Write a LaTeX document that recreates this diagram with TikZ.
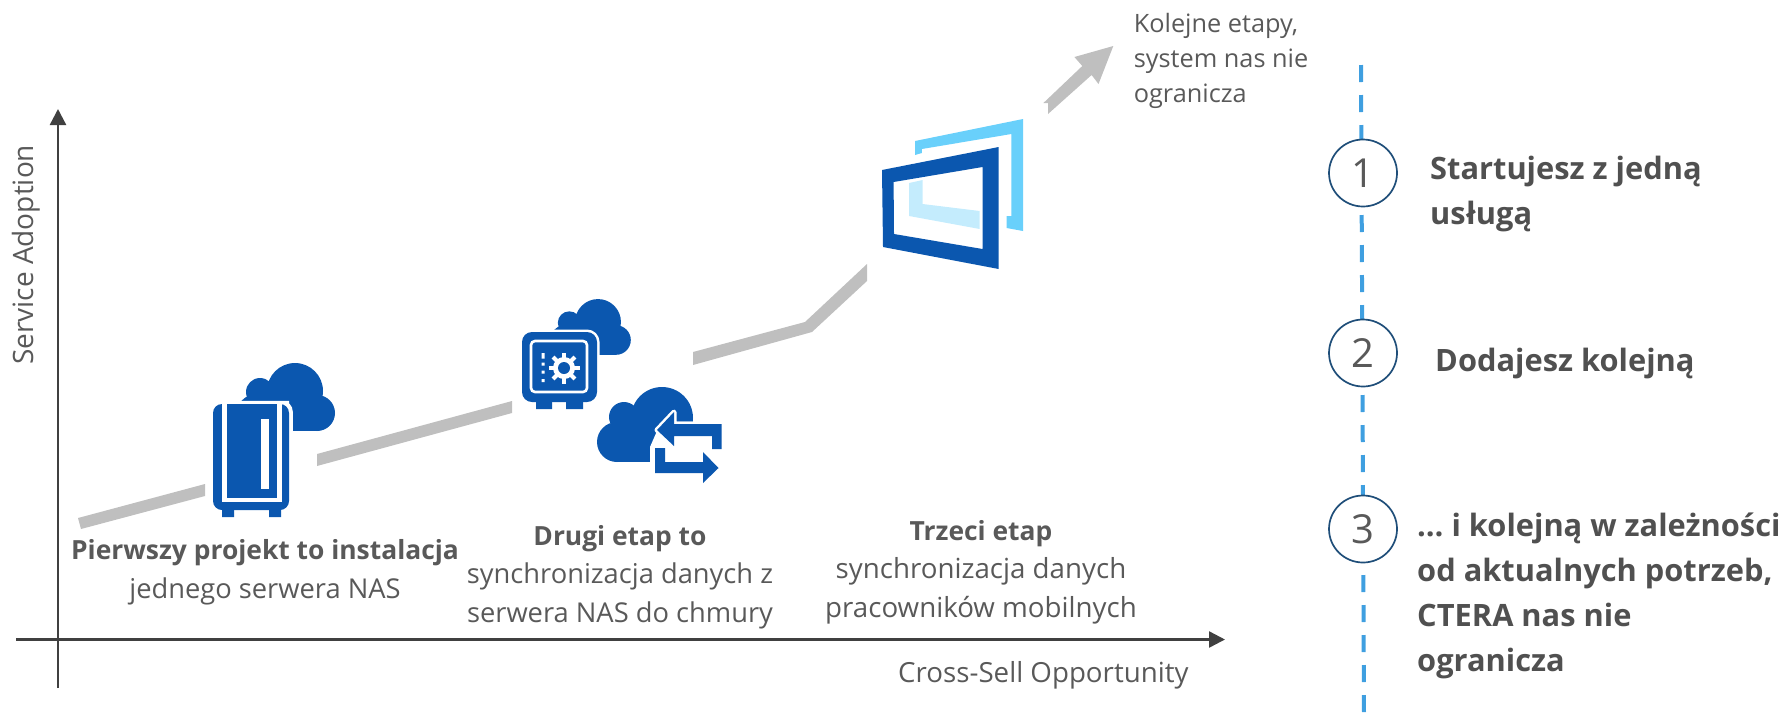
\documentclass[tikz,border=0pt]{standalone}
\usepackage{fontspec}
\setmainfont{Open Sans}
\usetikzlibrary{arrows.meta,shapes.geometric}
\definecolor{iconblue}{HTML}{0B57AF}
\definecolor{skyblue}{HTML}{69D0FB}
\definecolor{paleblue}{HTML}{C4ECFD}
\definecolor{trail}{HTML}{BFBFBF}
\definecolor{axisgrey}{HTML}{404040}
\definecolor{txt}{HTML}{595959}
\definecolor{txtb}{HTML}{505050}
\definecolor{dashblue}{HTML}{3F9FE0}
\definecolor{navy}{HTML}{1F4E79}
\newcommand\fsz[2]{\fontsize{#1pt}{#2pt}\selectfont}
\newcommand\bsz[1]{{\fontsize{26.4pt}{38.5pt}\selectfont\bfseries #1}}
\tikzset{
  axisline/.style={draw=axisgrey,line width=2.4pt,-{Triangle[length=16pt,width=16pt]}},
  trailshape/.style={fill=trail},
  lbl/.style={inner sep=0pt,text=txt,font=\fsz{27.3}{38.5},anchor=base,align=center},
  lblleft/.style={inner sep=0pt,text=txt,font=\fsz{27.7}{35},anchor=base west,align=left},
  sidetext/.style={inner sep=0pt,text=txtb,font=\fsz{30.8}{45}\bfseries,anchor=base west,align=left},
  stepcircle/.style={draw=navy,line width=1.7pt,fill=white,ellipse,minimum width=68pt,minimum height=67pt,inner sep=0pt,text=txt,font=\fsz{40}{40}},
  outlined/.style={fill=iconblue,preaction={draw=white,line width=5pt,line join=round}},
  cloudicon/.pic={
    \fill[iconblue] (0,0) circle[radius=28] (22,22) circle[radius=18] (-35,1) circle[radius=14] (-38,24) circle[radius=21];
    \fill[iconblue] (-38,8) rectangle (22,40);
  }
}
\begin{document}
\begin{tikzpicture}[x=1pt,y=-1pt]
\useasboundingbox (0,0) rectangle (1787,716);
% axes
\coordinate (ybot) at (58,688);
\coordinate (ytop) at (58,109);
\coordinate (xleft) at (16,639.5);
\coordinate (xright) at (1225,639.5);
\draw[axisline] (ybot) -- (ytop);
\draw[axisline] (xleft) -- (xright);
\node[lblleft,rotate=90,anchor=base west,font=\fsz{28}{35}] (yl) at (33,365) {Service Adoption};
\node[lblleft] (xl) at (898,682) {Cross-Sell Opportunity};
% trail
\fill[trailshape] (78,518) -- (205,484) -- (205,496) -- (81,529) -- cycle;
\fill[trailshape] (317,454) -- (512,401) -- (512,413) -- (317,466) -- cycle;
\fill[trailshape] (693,352) -- (805,322) -- (867,264) -- (867,281) -- (812,332) -- (693,365) -- cycle;
\fill[trailshape] (1043.4,103) -- (1048,103) -- (1048,114) -- (1091.6,75) -- (1098.5,84) -- (1113.3,46) -- (1074.4,57) -- (1082.3,66) -- cycle;
% first icon: NAS and cloud
\pic at (295,391) {cloudicon};
\path[fill=white,draw=white,line width=3.5pt,rounded corners=9pt] (222,402.5) -- (280,402.5) [rounded corners=9pt] -- (291,402.5) -- (291,440) -- (240,440) -- cycle;
\fill[iconblue,rounded corners=9pt] (213,404) rectangle (289,510);
\draw[white,line width=4.4pt] (224.5,400.7) -- (224.5,499.8) -- (279.5,499.8) -- (279.5,400.7);
\fill[white] (222,400.7) rectangle (282,404);
\fill[white] (261,419) rectangle (269,489);
\fill[iconblue] (222,508) rectangle (234,517) (269,508) rectangle (281,517);
% second icon: safe and cloud
\pic[scale=.82] at (598,322) {cloudicon};
\path[fill=iconblue,preaction={draw=white,line width=5pt},rounded corners=10pt] (522,332) rectangle (597,402);
\draw[white,line width=2.6pt,rounded corners=4pt] (531,341) rectangle (587,392);
\fill[iconblue] (536,400) rectangle (552,409) (566,400) rectangle (583,409);
\fill[white] (541.5,353) rectangle (544.5,358.5) (541.5,362.5) rectangle (544.5,365.5) (541.5,370.5) rectangle (544.5,373.5) (541.5,379) rectangle (544.5,382);
\fill[white] (564,368) circle[radius=11];
\foreach \a in {0,45,...,315}{\fill[white,rotate around={\a:(564,368)}] (562,352.5) rectangle (566,360);}
\fill[iconblue] (564,368) circle[radius=6];
% third icon: cloud and exchange arrows
\fill[iconblue] (662,418) circle[radius=31] (624,417) circle[radius=15] (617,442) circle[radius=20];
\fill[iconblue] (617,425) rectangle (651,462);
\fill[white] (650,447) -- (657,431) -- (674,447) -- (674,421.5) -- (726,421.5) -- (726,470) -- (650,470) -- cycle;
\path[outlined] (657,430) -- (674,412) -- (674,424) -- (721.5,424) -- (721.5,449) -- (712,449) -- (712,436) -- (674,436) -- (674,446) -- cycle;
\path[outlined] (655,448) -- (665,448) -- (665,462) -- (703,462) -- (703,452) -- (718.5,468) -- (703,483) -- (703,473) -- (655,473) -- cycle;
% window icon
\fill[skyblue] (915,141) -- (1023,119) -- (1023,231) -- (1006.6,228) -- (1006.6,216) -- (1011.4,216) -- (1011.4,134) -- (921.9,149) -- (921.9,153) -- (915,155) -- cycle;
\fill[iconblue,even odd rule] (882,170) -- (998.7,147) -- (998.7,269) -- (883,247) -- cycle (893.6,182) -- (982.5,167) -- (982.5,249) -- (894,234) -- cycle;
\fill[paleblue] (909.1,183) -- (922.6,180) -- (922.6,204) -- (979.7,211) -- (979.7,229) -- (909.1,216) -- cycle;
% labels
\node[lbl] (l1) at (265,598) {\bsz{Pierwszy projekt to instalacja}\\jednego serwera NAS};
\node[lbl] (l2) at (620,622) {\bsz{Drugi etap to}\\synchronizacja danych z\\serwera NAS do chmury};
\node[lbl,font=\fsz{27.7}{38.5}] (l3) at (981,617) {\bsz{Trzeci etap}\\synchronizacja danych\\pracowników mobilnych};
\node[lblleft,anchor=base west,font=\fsz{25.3}{35}] (more) at (1133.6,102) {Kolejne etapy,\\system nas nie\\ogranicza};
% right column
\coordinate (dtop) at (1361,65);
\coordinate (dbot) at (1364,716);
\draw[dashblue,line width=4pt,dash pattern=on 17pt off 13pt] (dtop) -- (dbot);
\node[stepcircle] (c1) at (1363,173) {\raisebox{-3pt}{1}};
\node[stepcircle] (c2) at (1363,353) {\raisebox{-3pt}{2}};
\node[stepcircle] (c3) at (1363,529) {\raisebox{-3pt}{3}};
\node[sidetext] (s1) at (1430,224) {Startujesz z jedną\\usługą};
\node[sidetext] (s2) at (1435,371) {Dodajesz kolejną};
\node[sidetext] (s3) at (1417,671) {… i kolejną w zależności\\od aktualnych potrzeb,\\CTERA nas nie\\ogranicza};
\end{tikzpicture}
\end{document}
